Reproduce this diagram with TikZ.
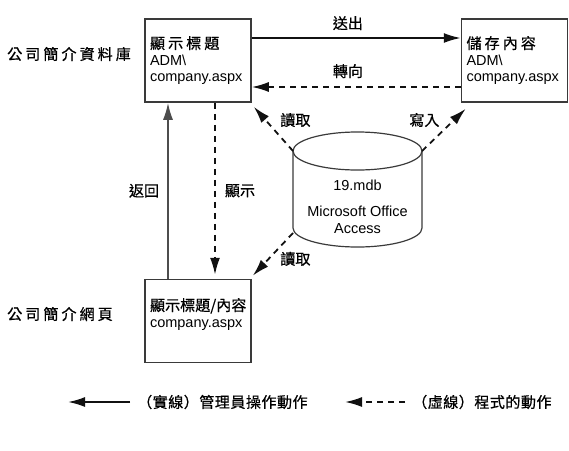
\documentclass[tikz,border=0pt]{standalone}
\usepackage{fontspec}
\setmainfont{Liberation Sans}
\newfontfamily\cjk{Noto Sans CJK TC}[Scale=1.04,FakeBold=0.6]
\newfontfamily\cjkwide{Noto Sans CJK TC}[Scale=1.04,FakeBold=0.6,LetterSpace=20]
\newfontfamily\cjkkey{Noto Sans CJK TC}[Scale=1.04,FakeBold=0.6,LetterSpace=3]
\usetikzlibrary{arrows.meta,positioning}
\definecolor{CPInk}{HTML}{111111}
\definecolor{CPEdge}{HTML}{3A3A3A}
\definecolor{CPGrey}{HTML}{4D4D4D}
\tikzset{
  cpbox/.style={
    draw=CPEdge,
    line width=1.5pt,
    fill=white,
    align=left,
    text width=96pt,
    inner sep=5pt,
    minimum height=83pt,
    font=\fontsize{14.5}{16.5}\selectfont
  },
  cpside/.style={font=\fontsize{14.5}{16.5}\selectfont\cjkwide,inner sep=0pt,anchor=west},
  cplabel/.style={font=\fontsize{14.5}{16.5}\selectfont\cjk,inner sep=0pt},
  cpkey/.style={font=\fontsize{14.5}{16.5}\selectfont\cjkkey,inner sep=0pt,anchor=west},
  cpdbtext/.style={align=center,inner sep=0pt,font=\fontsize{14.5}{16.5}\selectfont},
  cpdb/.style={draw=CPEdge,line width=1.2pt},
  cpflow/.style={-{Latex[length=17pt,width=10pt]},draw=CPInk,line width=1.8pt},
  cpdash/.style={cpflow,dash pattern=on 6pt off 5pt}
}

\begin{document}
\begin{tikzpicture}[x=1pt,y=-1pt]
  \useasboundingbox (0,0) rectangle (569,450);
  % pages
  \node[cpbox] (title) at (198,60.5) {{\cjkwide 顯示標題}\\ADM\textbackslash\\company.aspx};
  \node[cpbox,right=209pt of title] (store) {{\cjkwide 儲存內容}\\ADM\textbackslash\\company.aspx};
  \node[cpbox,below=176pt of title] (page) {{\cjk 顯示標題/內容}\\company.aspx\\\mbox{}};
  \node[cpside] (dbname) at (7,54) {公司簡介資料庫};
  \node[cpside] (pagename) at (7,314) {公司簡介網頁};

  % database
  \coordinate (dbtl) at (293,151);
  \coordinate (dbtr) at (422,151);
  \coordinate (dbbl) at (293,233);
  \draw[cpdb] (357.5,151) ellipse[x radius=64.5,y radius=19];
  \draw[cpdb] (dbtl) -- (293,228) arc[start angle=180,end angle=0,x radius=64.5,y radius=19] -- (dbtr);
  \node[cpdbtext] (db) at (357.5,207) {19.mdb\\[9.5pt]Microsoft Office\\Access};

  % connectors
  \draw[cpflow] ([yshift=22.5pt]title.east) -- node[cplabel,above=7pt,pos=0.46] {送出} ([yshift=22.5pt]store.west);
  \draw[cpdash] ([yshift=-26.5pt]store.west) -- node[cplabel,above=8pt,pos=0.54] {轉向} ([yshift=-26.5pt]title.east);
  \draw[cpflow,draw=CPGrey] ([xshift=-30pt]page.north) -- node[cplabel,left=8pt] {返回} ([xshift=-30pt]title.south);
  \draw[cpdash,shorten >=4pt] ([xshift=17pt]title.south) -- node[cplabel,right=9pt] {顯示} ([xshift=17pt]page.north);
  \draw[cpdash] (dbtl) -- node[cplabel,anchor=south west,xshift=6pt,yshift=1pt] {讀取} ([shift={(2pt,-4pt)}]title.south east);
  \draw[cpdash] (dbtr) -- node[cplabel,anchor=south east,xshift=-3.5pt,yshift=2pt] {寫入} ([shift={(5pt,-6pt)}]store.south west);
  \draw[cpdash] (dbbl) -- node[cplabel,anchor=west,xshift=6.5pt,yshift=-4.5pt] {讀取} ([shift={(1pt,3pt)}]page.north east);

  % legend
  \node[cpkey] (solidkey) at (137,402) {（實線）管理員操作動作};
  \node[cpkey] (dashkey) at (412,402) {（虛線）程式的動作};
  \coordinate (solidtip) at (68,402);
  \coordinate (dashtip) at (345,402);
  \draw[cpflow] ([xshift=-7pt]solidkey.west) -- (solidtip);
  \draw[cpdash] ([xshift=-7pt]dashkey.west) -- (dashtip);
\end{tikzpicture}
\end{document}
